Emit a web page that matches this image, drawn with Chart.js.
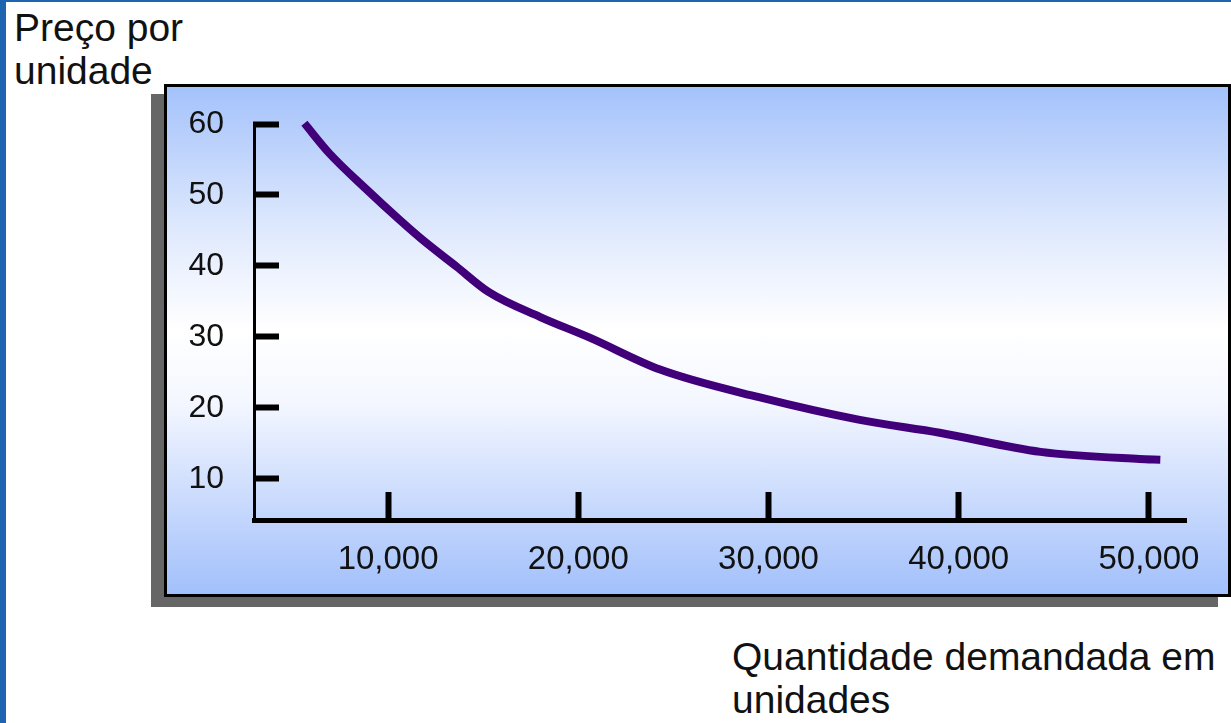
<!DOCTYPE html>
<html>
<head>
<meta charset="utf-8">
<script src="https://cdn.jsdelivr.net/npm/chart.js@4"></script>
<style>
  body { margin: 0; width: 1231px; height: 723px; overflow: hidden; background: #fff; font-family: "Liberation Sans", Arial, sans-serif; }
  #moldura { position: absolute; left: 0; top: 0; width: 1225px; height: 721px; border-left: 6px solid #1f64b0; border-top: 2px solid #1f64b0; }
  #caixa {
    position: absolute; left: 164px; top: 84px; width: 1067px; height: 513px;
    box-sizing: border-box; border: 3px solid #000;
    background: linear-gradient(#a4c2fb 0%, #dfe9fd 28%, #ffffff 48%, #f4f7ff 62%, #a2c0fb 100%);
    box-shadow: -13px 10px 0 #666;
  }
  .titulo { position: absolute; font-size: 39px; line-height: 43px; color: #111; white-space: nowrap; }
  #tituloY { left: 14px; top: 6px; }
  #tituloX { left: 732px; top: 635px; }
  canvas { position: absolute; left: 0; top: 0; }
</style>
</head>
<body>
<div id="moldura"></div>
<div id="caixa"></div>
<div class="titulo" id="tituloY">Preço por<br>unidade</div>
<div class="titulo" id="tituloX">Quantidade demandada em<br>unidades</div>
<canvas id="graficoDemanda" width="1231" height="723"></canvas>
<script>
// curva de demanda
const quantidade = [5600, 6900, 8900, 10600, 11800, 13600, 15300, 18000, 20600, 24300, 29500, 34800, 39000, 44300, 49500, 50600];
const preco = [60.1, 55.9, 50.7, 46.5, 43.7, 39.9, 36.3, 32.8, 29.9, 25.4, 21.5, 18.3, 16.5, 13.8, 12.8, 12.7];

const ticksX = [10000, 20000, 30000, 40000, 50000];
const ticksY = [10, 20, 30, 40, 50, 60];

const pontos = quantidade.map((q, i) => ({ x: q, y: preco[i] }));

const ctx = document.getElementById('graficoDemanda');

new Chart(ctx, {
  type: 'line',
  data: {
    datasets: [
      {
        label: 'Demanda',
        data: pontos,
        borderColor: '#41007a',
        borderWidth: 8,
        fill: false,
        tension: 0.3,
        cubicInterpolationMode: 'monotone',
        pointRadius: 0,
        clip: false
      }
    ]
  },
  options: {
    responsive: false,
    animation: false,
    layout: {
      padding: { left: 164, top: 124, right: 45, bottom: 143 }
    },
    plugins: {
      legend: { display: false },
      tooltip: { enabled: false }
    },
    scales: {
      x: {
        type: 'linear',
        min: 2950,
        max: 51950,
        afterBuildTicks: (s) => { s.ticks = ticksX.map(v => ({ value: v })); },
        // o padding dos rotulos nao deve encolher a area
        afterFit: (s) => { s.height = 60; s.paddingLeft = 0; s.paddingRight = 0; },
        grid: { drawOnChartArea: false, drawTicks: true, tickLength: -28, tickWidth: 6, tickColor: '#000' },
        border: { color: '#000', width: 5 },
        ticks: {
          color: '#111',
          font: { family: '"Liberation Sans", Arial', size: 33 },
          padding: 48,
          maxRotation: 0,
          callback: (v) => v.toLocaleString('en-US')
        }
      },
      y: {
        min: 4.2,
        max: 60,
        afterBuildTicks: (s) => { s.ticks = ticksY.map(v => ({ value: v })); },
        afterFit: (s) => { s.width = 90; },
        grid: { drawOnChartArea: false, drawTicks: true, tickLength: -25, tickWidth: 6, tickColor: '#000' },
        border: { color: '#000', width: 3 },
        ticks: {
          color: '#111',
          font: { family: '"Liberation Sans", Arial', size: 32 },
          padding: 55
        }
      }
    }
  }
});
</script>
</body>
</html>
